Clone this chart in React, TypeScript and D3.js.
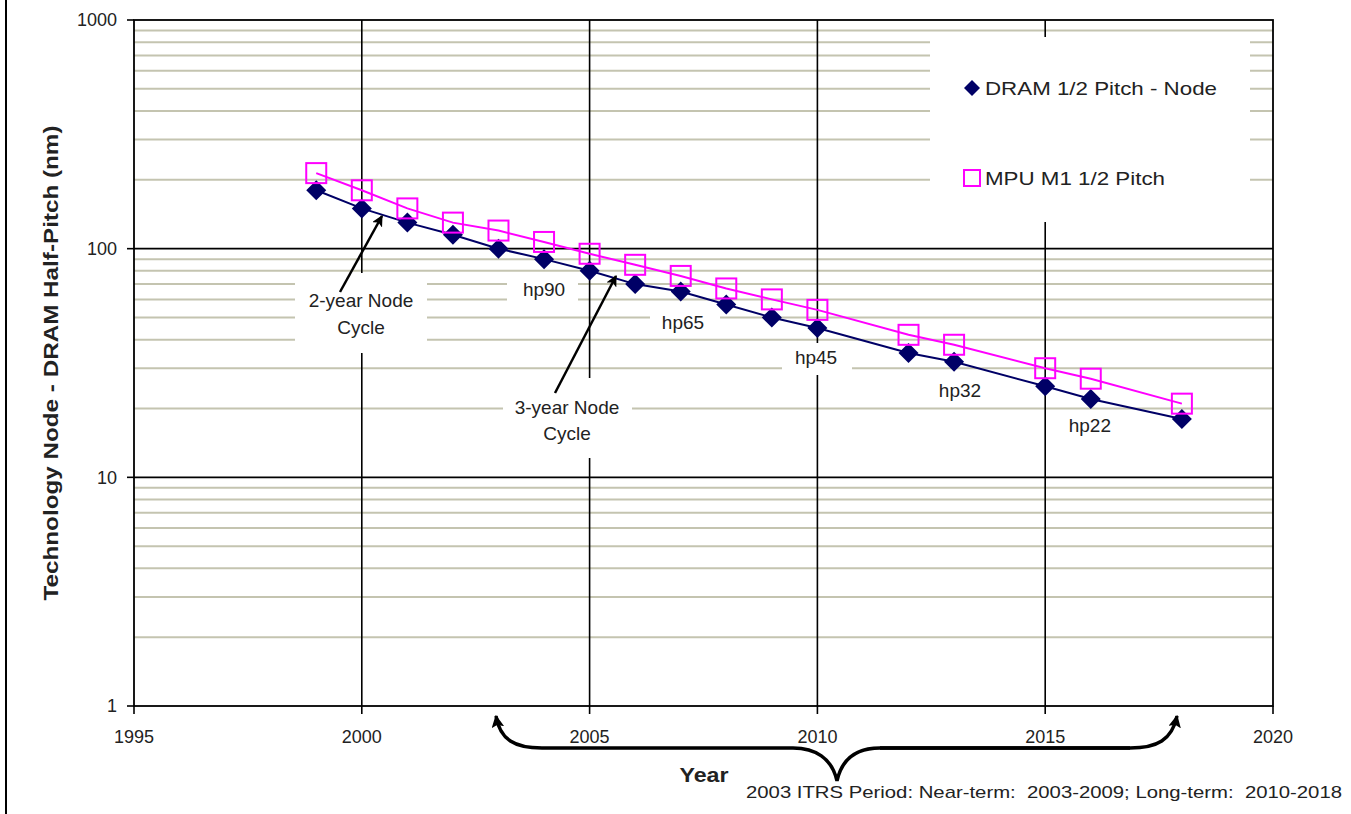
import React from "react";
import * as d3 from "d3";

const years = [1999, 2000, 2001, 2002, 2003, 2004, 2005, 2006, 2007, 2008, 2009, 2010, 2012, 2013, 2015, 2016, 2018];
const dramPitch = [180, 150, 130, 115, 100, 90, 80, 70, 65, 57, 50, 45, 35, 32, 25, 22, 18];
const mpuPitch = [214, 180, 150, 130, 120, 107, 95, 85, 76, 67, 60, 54, 42, 38, 30, 27, 21];
const xTicks = [1995, 2000, 2005, 2010, 2015, 2020];
const yTicks = [1, 10, 100, 1000];
const nodeLabels = [
  { text: "hp90", year: 2004.0, value: 66.6 },
  { text: "hp65", year: 2007.05, value: 47.8 },
  { text: "hp45", year: 2009.97, value: 33.6 },
  { text: "hp32", year: 2013.13, value: 24.1 },
  { text: "hp22", year: 2015.98, value: 16.9 },
];

const FONT = "'Liberation Sans', Arial, sans-serif";
const NAVY = "#000066";
const MAGENTA = "#ff00ff";
const GRID = "#c4c4b0";

export default function App() {
  const left = 134, right = 1273, top = 20, bottom = 706;
  const x = d3.scaleLinear().domain([1995, 2020]).range([left, right]);
  const y = d3.scaleLog().domain([1, 1000]).range([bottom, top]);

  const minor: number[] = [];
  for (const dec of [1, 10, 100]) for (let k = 2; k <= 9; k++) minor.push(dec * k);

  const line = d3.line<[number, number]>().x(d => x(d[0])).y(d => y(d[1]));
  const dramPts = years.map((yr, i) => [yr, dramPitch[i]] as [number, number]);
  const mpuPts = years.map((yr, i) => [yr, mpuPitch[i]] as [number, number]);

  const diamond = (cx: number, cy: number, r = 10) =>
    `M${cx},${cy - r}L${cx + r},${cy}L${cx},${cy + r}L${cx - r},${cy}Z`;

  const boxes = [
    { x0: 295, x1: 427, y0: 273, y1: 353 },
    { x0: 503, x1: 632, y0: 378, y1: 458 },
    { x0: 507, x1: 578, y0: 276, y1: 304 },
    { x0: 650, x1: 720, y0: 310, y1: 336 },
    { x0: 782, x1: 852, y0: 343, y1: 375 },
    { x0: 930, x1: 1250, y0: 37, y1: 222 },
  ];

  return (
    <svg width={1351} height={814} style={{ position: "absolute", left: 0, top: 0, background: "#fff" }}
      fontFamily={FONT}>
      <defs>
        <marker id="ah" viewBox="0 0 10 10" refX="9" refY="5" markerWidth="4.5" markerHeight="4.5" orient="auto" markerUnits="strokeWidth">
          <path d="M0,0L10,5L0,10L2.5,5Z" fill="#000" />
        </marker>
        <marker id="bh" viewBox="0 0 10 10" refX="9" refY="5" markerWidth="3.6" markerHeight="3.6" orient="auto" markerUnits="strokeWidth">
          <path d="M0,0L10,5L0,10L2,5Z" fill="#000" />
        </marker>
      </defs>
      <rect x={0} y={0} width={1351} height={814} fill="#fff" />
      <line x1={6} x2={6} y1={0} y2={814} stroke="#000" strokeWidth={2} />

      {minor.map(v => (
        <line key={"m" + v} x1={left} x2={right} y1={y(v)} y2={y(v)} stroke={GRID} strokeWidth={2} />
      ))}
      {[10, 100].map(v => (
        <line key={"M" + v} x1={left} x2={right} y1={y(v)} y2={y(v)} stroke="#000" strokeWidth={1.6} />
      ))}
      {[2000, 2005, 2010, 2015].map(v => (
        <line key={"V" + v} x1={x(v)} x2={x(v)} y1={top} y2={bottom} stroke="#000" strokeWidth={1.6} />
      ))}

      {boxes.map((b, i) => (
        <rect key={"b" + i} x={b.x0} y={b.y0} width={b.x1 - b.x0} height={b.y1 - b.y0} fill="#fff" />
      ))}

      <rect x={left} y={top} width={right - left} height={bottom - top} fill="none" stroke="#000" strokeWidth={1.8} />

      {yTicks.map(v => (
        <g key={"yt" + v}>
          <line x1={left - 7} x2={left} y1={y(v)} y2={y(v)} stroke="#000" strokeWidth={1.6} />
          <text x={117} y={y(v)} dy="0.35em" textAnchor="end" fontSize={18} fill="#222">{v}</text>
        </g>
      ))}
      {xTicks.map(v => (
        <g key={"xt" + v}>
          <line x1={x(v)} x2={x(v)} y1={bottom} y2={bottom + 8} stroke="#000" strokeWidth={1.6} />
          <text x={x(v)} y={743} textAnchor="middle" fontSize={18} fill="#222">{v}</text>
        </g>
      ))}

      <text transform="translate(58,363) rotate(-90)" textAnchor="middle" fontSize={20} fontWeight="bold" fill="#222"
        textLength={475} lengthAdjust="spacingAndGlyphs">Technology Node - DRAM Half-Pitch (nm)</text>
      <text x={704} y={782} textAnchor="middle" fontSize={20} fontWeight="bold" fill="#222"
        textLength={49} lengthAdjust="spacingAndGlyphs">Year</text>

      <path d={line(dramPts) || ""} fill="none" stroke={NAVY} strokeWidth={2} />
      <path d={line(mpuPts) || ""} fill="none" stroke={MAGENTA} strokeWidth={2} />
      {dramPts.map((p, i) => (
        <path key={"d" + i} d={diamond(x(p[0]), y(p[1]))} fill={NAVY} />
      ))}
      {mpuPts.map((p, i) => (
        <rect key={"s" + i} x={x(p[0]) - 10} y={y(p[1]) - 10} width={20} height={20} fill="none" stroke={MAGENTA} strokeWidth={2} />
      ))}

      {nodeLabels.map(n => (
        <text key={n.text} x={x(n.year)} y={y(n.value)} dy="0.35em" textAnchor="middle" fontSize={19} fill="#222">{n.text}</text>
      ))}

      <text x={361} y={307} textAnchor="middle" fontSize={19} fill="#222">2-year Node</text>
      <text x={361} y={334} textAnchor="middle" fontSize={19} fill="#222">Cycle</text>
      <line x1={340} y1={292} x2={382} y2={216} stroke="#000" strokeWidth={2.5} markerEnd="url(#ah)" />
      <text x={567} y={414} textAnchor="middle" fontSize={19} fill="#222">3-year Node</text>
      <text x={567} y={440} textAnchor="middle" fontSize={19} fill="#222">Cycle</text>
      <line x1={555} y1={393} x2={616} y2={276} stroke="#000" strokeWidth={2.5} markerEnd="url(#ah)" />

      <path d={diamond(972, 88, 8)} fill={NAVY} />
      <text x={985} y={88} dy="0.35em" fontSize={19} fill="#222" textLength={232} lengthAdjust="spacingAndGlyphs">DRAM 1/2 Pitch - Node</text>
      <rect x={964} y={170} width={16} height={16} fill="none" stroke={MAGENTA} strokeWidth={2} />
      <text x={985} y={178} dy="0.35em" fontSize={19} fill="#222" textLength={180} lengthAdjust="spacingAndGlyphs">MPU M1 1/2 Pitch</text>

      <path d="M1130,748 L880,748 C858,748 842,758 837,781 C832,758 815,748 793,748 L542,748 C515,748 500,740 496,716"
        fill="none" stroke="#000" strokeWidth={3.5} markerEnd="url(#bh)" />
      <path d="M880,748 L1130,748 C1157,748 1172,740 1177,716"
        fill="none" stroke="#000" strokeWidth={3.5} markerEnd="url(#bh)" />

      <text x={746} y={798} fontSize={17} fill="#222" textLength={596} lengthAdjust="spacingAndGlyphs"
        style={{ whiteSpace: "pre" }}>
        {"2003 ITRS Period: Near-term:  2003-2009; Long-term:  2010-2018"}
      </text>
    </svg>
  );
}
